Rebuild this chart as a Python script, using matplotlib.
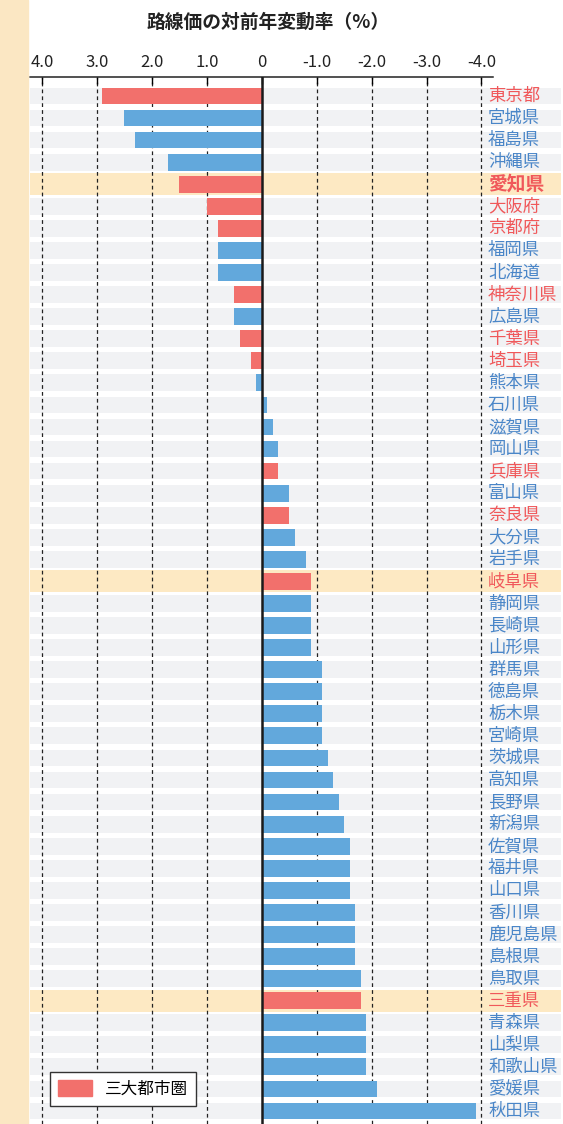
import numpy as np
import matplotlib
matplotlib.use("Agg")
import matplotlib.pyplot as plt
from matplotlib.patches import Rectangle, Patch

plt.rcParams['font.family'] = ['Noto Sans CJK JP', 'DejaVu Sans']

# 都道府県と対前年変動率(%)
prefs = ["東京都", "宮城県", "福島県", "沖縄県", "愛知県", "大阪府", "京都府", "福岡県",
         "北海道", "神奈川県", "広島県", "千葉県", "埼玉県", "熊本県", "石川県", "滋賀県",
         "岡山県", "兵庫県", "富山県", "奈良県", "大分県", "岩手県", "岐阜県", "静岡県",
         "長崎県", "山形県", "群馬県", "徳島県", "栃木県", "宮崎県", "茨城県", "高知県",
         "長野県", "新潟県", "佐賀県", "福井県", "山口県", "香川県", "鹿児島県", "島根県",
         "鳥取県", "三重県", "青森県", "山梨県", "和歌山県", "愛媛県", "秋田県"]
rates = [2.9, 2.5, 2.3, 1.7, 1.5, 1.0, 0.8, 0.8,
         0.8, 0.5, 0.5, 0.4, 0.2, 0.1, -0.1, -0.2,
         -0.3, -0.3, -0.5, -0.5, -0.6, -0.8, -0.9, -0.9,
         -0.9, -0.9, -1.1, -1.1, -1.1, -1.1, -1.2, -1.3,
         -1.4, -1.5, -1.6, -1.6, -1.6, -1.7, -1.7, -1.7,
         -1.8, -1.8, -1.9, -1.9, -1.9, -2.1, -3.9]
# 三大都市圏
metro = ["東京都", "愛知県", "大阪府", "京都府", "神奈川県", "千葉県", "埼玉県",
         "兵庫県", "奈良県", "岐阜県", "三重県"]
# 東海3県
highlight = ["愛知県", "岐阜県", "三重県"]

xticks = [4, 3, 2, 1, 0, -1, -2, -3, -4]
xticklabels = ["4.0", "3.0", "2.0", "1.0", "0", "-1.0", "-2.0", "-3.0", "-4.0"]

RED = "#f2706c"
BLUE = "#62a8dc"
RED_TXT = "#f0585a"
BLUE_TXT = "#4a86c8"

W, H = 563, 1124
fig = plt.figure(figsize=(W / 100, H / 100), dpi=100)
fig.patches.append(Rectangle((0, 0), 28 / W, 1, transform=fig.transFigure,
                             color="#fbe7c3", zorder=0))

ax = fig.add_axes([30 / W, 0, 463 / W, 1 - 77 / H])
n = len(prefs)
y = np.arange(n)

xl, xr = 4.22, -4.21
ax.set_xlim(xl, xr)
ax.set_ylim(n - 1 + 0.59, -0.86)

# row bands
band_right = -5.45
for i, p in enumerate(prefs):
    if p in highlight:
        ax.barh(i, band_right - xl, left=xl, height=1.0, color="#fde9c3",
                zorder=0, clip_on=False)
    else:
        ax.barh(i, band_right - xl, left=xl, height=0.76, color="#f1f2f4",
                zorder=0, clip_on=False)

colors = [RED if p in metro else BLUE for p in prefs]
ax.barh(y, rates, height=0.76, color=colors, zorder=2)

ax.axvline(0, color="#1a1a1a", lw=1.8, zorder=3)
for t in xticks:
    if t != 0:
        ax.axvline(t, color="#222222", lw=0.9, ls=(0, (3, 2.5)), zorder=1)

for i, p in enumerate(prefs):
    c = RED_TXT if p in metro else BLUE_TXT
    if p == "愛知県":
        ax.text(-4.12, i, p, color=RED_TXT, fontsize=13.5, fontweight="bold",
                va="center", ha="left", clip_on=False)
    else:
        ax.text(-4.12, i, p, color=c, fontsize=12.5, va="center", ha="left",
                clip_on=False)

ax.xaxis.tick_top()
ax.set_xticks(xticks)
ax.set_xticklabels(xticklabels, fontsize=12, color="#222222")
ax.tick_params(axis="x", direction="in", length=5, width=1, pad=4)
ax.set_yticks([])
for s in ["left", "right", "bottom"]:
    ax.spines[s].set_visible(False)
ax.spines["top"].set_linewidth(1.1)
ax.spines["top"].set_color("#222222")

fig.text(268 / W, 1 - 22 / H, "路線価の対前年変動率（%）", ha="center", va="center",
         fontsize=13.5, fontweight="bold", color="#222222")

leg = ax.legend(handles=[Patch(color=RED, label="三大都市圏")],
                loc="lower left", bbox_to_anchor=(0.043, 0.017), borderaxespad=0,
                fancybox=False, edgecolor="#333333", framealpha=1, fontsize=12,
                handlelength=2.0, handleheight=1.1, borderpad=0.5)
leg.get_frame().set_linewidth(1.0)

fig.savefig("out.png", dpi=100)
